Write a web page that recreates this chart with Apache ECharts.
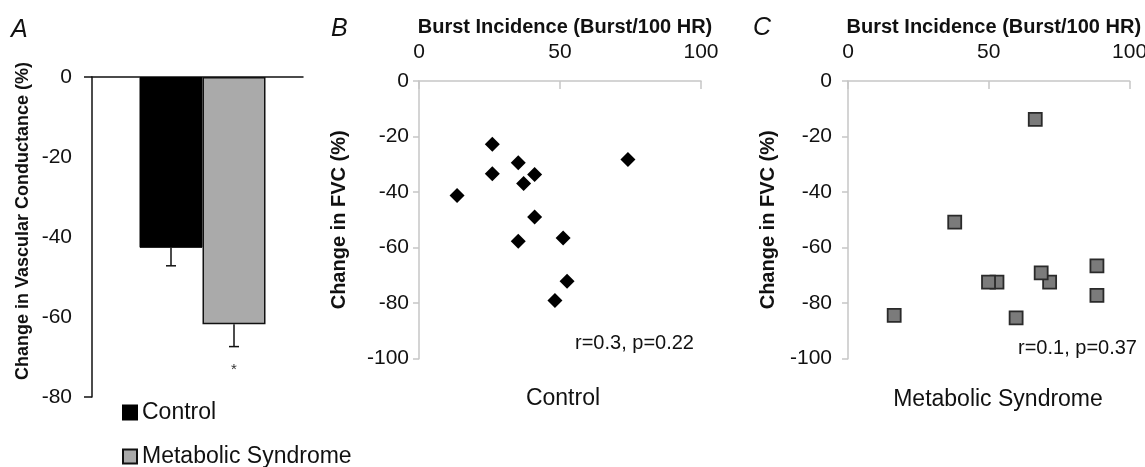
<!DOCTYPE html>
<html><head><meta charset="utf-8">
<script src="https://cdn.jsdelivr.net/npm/echarts@6/dist/echarts.min.js"></script>
<style>html,body{margin:0;padding:0;background:#fff}#c{width:1145px;height:467px}</style>
</head><body><div id="c"></div>
<script>
// ---- data ----
const groupNames = ['Control', 'Metabolic Syndrome'];
const conductanceMeans = [-42.7, -61.8];
const conductanceSEM = [4.5, 5.6];
const significance = ['', '*'];
const conductanceTickMarks = [0, -80];
const controlBurst = [26.0, 26.0, 13.5, 35.2, 37.1, 41.0, 41.0, 35.2, 51.1, 52.5, 48.2, 74.1];
const controlFVC = [-22.8, -33.4, -41.2, -29.4, -36.9, -33.7, -49.0, -57.7, -56.5, -72.1, -79.0, -28.3];
const metsBurst = [66.5, 37.9, 16.4, 52.9, 49.9, 71.6, 68.6, 59.7, 88.4, 88.4];
const metsFVC = [-13.8, -50.8, -84.4, -72.4, -72.4, -72.4, -69.1, -85.3, -66.6, -77.2];
const statsControl = 'r=0.3, p=0.22';
const statsMets = 'r=0.1, p=0.37';
const panelLetters = ['A', 'B', 'C'];
const burstTitle = 'Burst Incidence (Burst/100 HR)';
const fvcTitle = 'Change in FVC (%)';
const conductanceTitle = 'Change in Vascular Conductance (%)';

// ---- styles ----
const FONT = 'Liberation Sans, Arial, Helvetica, sans-serif';
const BAR_W = 63;
const GRAY_AXIS = '#c6c6c6';

const chart = echarts.init(document.getElementById('c'), null, {renderer: 'canvas'});

function scatterAxes(gridIndex, labelMargin) {
  return {
    x: {
      type: 'value', gridIndex, position: 'top', min: 0, max: 100, interval: 50,
      name: burstTitle, nameLocation: 'middle', nameGap: 41,
      nameTextStyle: {fontFamily: FONT, fontWeight: 'bold', fontSize: 20, color: '#111', padding: [0, 0, 0, 10]},
      axisLine: {show: true, lineStyle: {color: GRAY_AXIS, width: 1.5}},
      axisTick: {show: true, inside: true, length: 8, lineStyle: {color: GRAY_AXIS, width: 1.5}},
      axisLabel: {fontFamily: FONT, fontSize: 21, color: '#111', margin: 18},
      splitLine: {show: false}
    },
    y: {
      type: 'value', gridIndex, min: -100, max: 0, interval: 20,
      name: fvcTitle, nameLocation: 'middle', nameGap: 70, nameRotate: 90,
      nameTextStyle: {fontFamily: FONT, fontWeight: 'bold', fontSize: 20, color: '#111'},
      axisLine: {show: true, lineStyle: {color: GRAY_AXIS, width: 1.5}},
      axisTick: {show: true, length: 6, lineStyle: {color: GRAY_AXIS, width: 1.5}},
      axisLabel: {fontFamily: FONT, fontSize: 21, color: '#111', margin: labelMargin},
      splitLine: {show: false}
    }
  };
}
const axB = scatterAxes(1, 10);
const axC = scatterAxes(2, 16);

function txt(text, x, y, size, opts) {
  return {
    type: 'text', x, y,
    style: Object.assign({text, font: (opts && opts.font) || (size + 'px ' + FONT), fill: '#111',
      align: 'left', verticalAlign: 'middle'}, (opts && opts.style) || {})
  };
}

const legendCommon = {
  orient: 'vertical', left: 117, itemWidth: 14, itemHeight: 14,
  icon: 'rect', textStyle: {fontFamily: FONT, fontSize: 23, color: '#111'}
};

const option = {
  backgroundColor: '#fff',
  animation: false,
  grid: [
    {left: 92, top: 77, width: 211, height: 320, containLabel: false, outerBoundsMode: 'none'},
    {left: 419, top: 81, width: 282, height: 277.7, containLabel: false, outerBoundsMode: 'none'},
    {left: 848, top: 81, width: 281.6, height: 277.7, containLabel: false, outerBoundsMode: 'none'},
    // bar placement grid (axes hidden), shares the scale of grid 0
    {left: 92, top: 77, width: 221, height: 320, containLabel: false, outerBoundsMode: 'none'}
  ],
  xAxis: [
    {type: 'category', gridIndex: 0, data: [''], position: 'top',
     axisLine: {show: true, lineStyle: {color: '#111', width: 1.5}},
     axisTick: {show: false}, axisLabel: {show: false}},
    axB.x, axC.x,
    {type: 'category', gridIndex: 3, data: [''], show: false}
  ],
  yAxis: [
    {type: 'value', gridIndex: 0, min: -80, max: 0, interval: 20,
     name: conductanceTitle, nameLocation: 'middle', nameGap: 60, nameRotate: 90,
     nameTextStyle: {fontFamily: FONT, fontWeight: 'bold', fontSize: 18, color: '#111', padding: [0, 0, 0, 32]},
     axisLine: {show: true, lineStyle: {color: '#111', width: 1.5}},
     axisTick: {show: true, length: 8, customValues: conductanceTickMarks, lineStyle: {color: '#111', width: 1.5}},
     axisLabel: {fontFamily: FONT, fontSize: 21, color: '#111', margin: 20},
     splitLine: {show: false}},
    axB.y, axC.y,
    {type: 'value', gridIndex: 3, min: -80, max: 0, interval: 20, show: false}
  ],
  legend: [
    Object.assign({top: 396, data: [groupNames[0]]}, legendCommon),
    Object.assign({top: 440, data: [groupNames[1]]}, legendCommon)
  ],
  series: [
    {name: groupNames[0], type: 'bar', xAxisIndex: 3, yAxisIndex: 3, barWidth: BAR_W, barGap: '0%',
     data: [conductanceMeans[0]], itemStyle: {color: '#000', borderColor: '#000', borderWidth: 1}},
    {name: groupNames[1], type: 'bar', xAxisIndex: 3, yAxisIndex: 3, barWidth: BAR_W, barGap: '0%',
     data: [conductanceMeans[1]], itemStyle: {color: '#aaaaaa', borderColor: '#111', borderWidth: 1.5}},
    {name: 'error', type: 'custom', xAxisIndex: 3, yAxisIndex: 3, z: 5,
     data: conductanceMeans.map((m, i) => [0, m, conductanceSEM[i], i]),
     renderItem: function (params, api) {
       const i = api.value(3);
       const off = (i === 0 ? -1 : 1) * BAR_W / 2;
       const p0 = api.coord([0, api.value(1)]);
       const p1 = api.coord([0, api.value(1) - api.value(2)]);
       const x = p0[0] + off;
       const ls = {stroke: '#111', lineWidth: 1.5};
       const children = [
         {type: 'line', shape: {x1: x, y1: p0[1], x2: x, y2: p1[1]}, style: ls},
         {type: 'line', shape: {x1: x - 5, y1: p1[1], x2: x + 5, y2: p1[1]}, style: ls}
       ];
       if (significance[i]) {
         children.push({type: 'text', x: x, y: p1[1] + 23,
           style: {text: significance[i], font: '15px ' + FONT, fill: '#333', align: 'center', verticalAlign: 'middle'}});
       }
       return {type: 'group', children};
     }},
    {name: 'Control FVC', type: 'scatter', xAxisIndex: 1, yAxisIndex: 1, symbol: 'diamond', symbolSize: 15,
     data: controlBurst.map((v, i) => [v, controlFVC[i]]), itemStyle: {color: '#000', opacity: 1}},
    {name: 'MetS FVC', type: 'scatter', xAxisIndex: 2, yAxisIndex: 2, symbol: 'rect', symbolSize: 13,
     data: metsBurst.map((v, i) => [v, metsFVC[i]]),
     itemStyle: {color: '#7b7b7b', borderColor: '#2a2a2a', borderWidth: 1.8, opacity: 1}}
  ],
  graphic: [
    txt(panelLetters[0], 11, 30, 25, {font: 'italic 25px ' + FONT}),
    txt(panelLetters[1], 331, 29, 25, {font: 'italic 25px ' + FONT}),
    txt(panelLetters[2], 753, 28, 25, {font: 'italic 25px ' + FONT}),
    txt(statsControl, 575, 343, 20),
    txt(statsMets, 1018, 348, 20),
    txt(groupNames[0], 563, 399, 23, {style: {align: 'center'}}),
    txt(groupNames[1], 998, 400, 23, {style: {align: 'center'}})
  ]
};
chart.setOption(option);
</script></body></html>
